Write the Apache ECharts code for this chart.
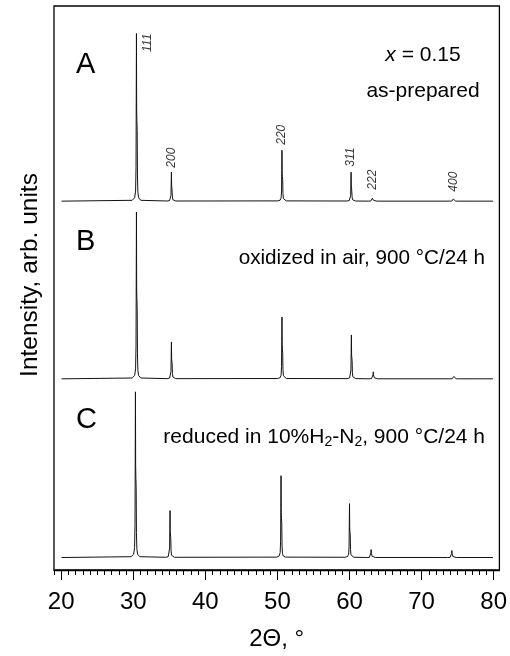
<!DOCTYPE html>
<html>
<head>
<meta charset="utf-8">
<title>XRD</title>
<script src="https://cdn.jsdelivr.net/npm/echarts@6/dist/echarts.min.js"></script>
</head>
<body style="margin:0">
<div id="main" style="width:510px;height:656px;"></div>
<script type="text/javascript">
// peak positions (2θ, deg) and heights (arb. units) of the three patterns
var hkl  = ['111', '200', '220', '311', '222', '400'];
var posA = [30.44, 35.29, 50.63, 60.22, 63.20, 74.43];
var hA   = [168, 29, 51, 29, 5, 3.5];
var posB = [30.44, 35.29, 50.63, 60.26, 63.30, 74.50];
var hB   = [167, 37, 62, 44, 7, 4];
var posC = [30.30, 35.10, 50.50, 60.00, 63.00, 74.20];
var hC   = [166, 47, 82, 54, 8, 7];
// vertical offsets of the stacked patterns A, B, C
var offsets = [369.5, 191.5, 12.5];
// measured range of the scans
var scanRange = [20.05, 79.9];
var shapeDx   = [-0.6, -0.25, -0.12, -0.06, -0.03, 0, 0.03, 0.06, 0.1, 0.14, 0.2, 0.3, 0.6];
var shapeFrac = [0.005, 0.02, 0.06, 0.2, 0.6, 1, 0.55, 0.48, 0.42, 0.15, 0.05, 0.02, 0.005];
// hkl label anchors on pattern A
var hklX = [31.96, 35.29, 50.63, 60.22, 63.20, 74.43];
var hklY = [519, 403, 426, 404, 381, 379];
var majorTicks = [20, 30, 40, 50, 60, 70, 80];

var minorTicks = [];
for (var t = 19; t <= 80; t++) minorTicks.push(t);

function pattern(pos, h, off) {
    var pts = [[scanRange[0], off], [scanRange[1], off]];
    pos.forEach(function (p, i) {
        shapeDx.forEach(function (dx, k) {
            pts.push([p + dx, off + h[i] * shapeFrac[k]]);
        });
    });
    pts.sort(function (a, b) { return a[0] - b[0]; });
    return pts;
}

var FONT = '"Liberation Sans", Arial, sans-serif';
var lineStyle = { color: '#111', width: 1 };

var myChart = echarts.init(document.getElementById('main'));
myChart.setOption({
    animation: false,
    grid: { left: 54, right: 10, top: 6, bottom: 85, show: true, borderColor: '#000', borderWidth: 1.3 },
    xAxis: [{
        type: 'value', min: 19, max: 80.8, position: 'bottom',
        name: '2Θ, °', nameLocation: 'middle', nameGap: 57,
        nameTextStyle: { fontSize: 24, color: '#000', fontFamily: FONT },
        axisLine: { show: true, lineStyle: { color: '#000', width: 1.3 } },
        axisTick: { show: true, length: 10, customValues: majorTicks, lineStyle: { color: '#000', width: 1 } },
        axisLabel: { customValues: majorTicks, margin: 20, fontSize: 24, color: '#000', fontFamily: FONT },
        splitLine: { show: false }
    }, {
        type: 'value', min: 19, max: 80.8, position: 'bottom',
        axisLine: { show: false },
        axisTick: { show: true, length: 5, customValues: minorTicks, lineStyle: { color: '#000', width: 1 } },
        axisLabel: { show: false },
        splitLine: { show: false }
    }],
    yAxis: { type: 'value', min: 0, max: 565, show: false },
    series: [
        { type: 'line', symbol: 'none', lineStyle: lineStyle, data: pattern(posA, hA, offsets[0]) },
        { type: 'line', symbol: 'none', lineStyle: lineStyle, data: pattern(posB, hB, offsets[1]) },
        { type: 'line', symbol: 'none', lineStyle: lineStyle, data: pattern(posC, hC, offsets[2]) },
        {
            type: 'scatter', symbolSize: 1, itemStyle: { color: 'rgba(0,0,0,0)' },
            data: hklX.map(function (x, i) { return [x, hklY[i], hkl[i]]; }),
            label: {
                show: true, position: 'inside', rotate: 90, align: 'left', verticalAlign: 'middle',
                fontSize: 12, fontStyle: 'italic', color: '#000', fontFamily: FONT,
                formatter: function (p) { return p.value[2]; }
            }
        }
    ],
    graphic: [
        { type: 'text', x: 76, y: 65, style: { text: 'A', fontSize: 29, fontFamily: FONT, fill: '#000', verticalAlign: 'middle' } },
        { type: 'text', x: 76, y: 242, style: { text: 'B', fontSize: 29, fontFamily: FONT, fill: '#000', verticalAlign: 'middle' } },
        { type: 'text', x: 76, y: 420, style: { text: 'C', fontSize: 29, fontFamily: FONT, fill: '#000', verticalAlign: 'middle' } },
        { type: 'text', x: 423, y: 55, style: {
            text: '{i|x} = 0.15', fontSize: 21, fontFamily: FONT, fill: '#000', align: 'center', verticalAlign: 'middle',
            rich: { i: { fontStyle: 'italic', fontSize: 21, fontFamily: FONT, fill: '#000' } } } },
        { type: 'text', x: 423, y: 91, style: { text: 'as-prepared', fontSize: 21, fontFamily: FONT, fill: '#000', align: 'center', verticalAlign: 'middle' } },
        { type: 'text', x: 485, y: 258, style: { text: 'oxidized in air, 900 °C/24 h', fontSize: 20.7, fontFamily: FONT, fill: '#000', align: 'right', verticalAlign: 'middle' } },
        { type: 'text', x: 485, y: 437, style: {
            text: '{n|reduced in 10%H}{s|2}{n|-N}{s|2}{n|, 900 °C/24 h}', align: 'right', verticalAlign: 'middle',
            rich: {
                n: { fontSize: 21, fontFamily: FONT, fill: '#000' },
                s: { fontSize: 14, fontFamily: FONT, fill: '#000', padding: [11, 0, 0, 0] }
            } } },
        { type: 'text', x: 30, y: 275, rotation: Math.PI / 2, style: {
            text: 'Intensity, arb. units', fontSize: 24.5, fontFamily: FONT, fill: '#000', align: 'center', verticalAlign: 'middle' } }
    ]
});
</script>
</body>
</html>
